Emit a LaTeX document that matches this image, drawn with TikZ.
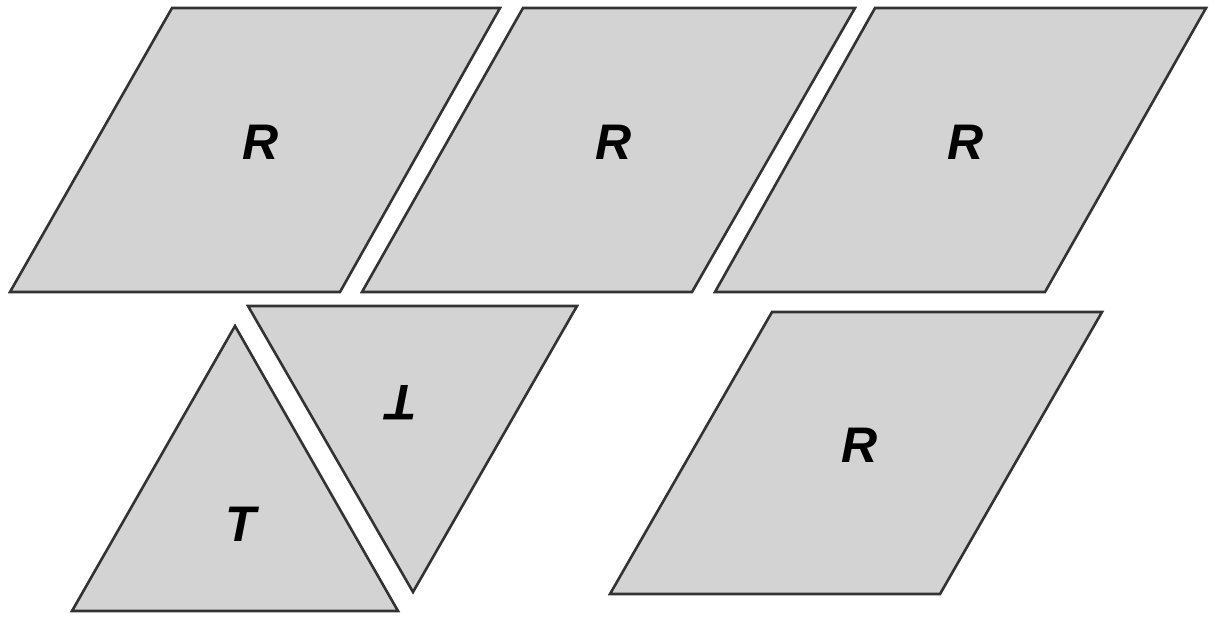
\documentclass[tikz,border=0pt]{standalone}
\usepackage{fontspec}
\setmainfont{Liberation Sans}
\begin{document}
\begin{tikzpicture}[x=1pt,y=-1pt,
  tile/.style={fill=tilegray,draw=black!80,line width=2.6pt,line join=miter},
  lab/.style={font=\fontsize{50}{54}\selectfont\bfseries\itshape,inner sep=0pt}]
\definecolor{tilegray}{RGB}{211,211,211}
\useasboundingbox (0,0) rectangle (1214,617);
% top row
\draw[tile] (172,8) -- (500,8) -- (340,292) -- (10,292) -- cycle;
\draw[tile] (523,8) -- (855,8) -- (692,292) -- (362,292) -- cycle;
\draw[tile] (875,8) -- (1206,8) -- (1045,292) -- (715,292) -- cycle;
% bottom right
\draw[tile] (772,312) -- (1102,312) -- (940,594) -- (610,594) -- cycle;
% triangles
\draw[tile] (235,326) -- (398,611) -- (72,611) -- cycle;
\draw[tile] (248,306) -- (577,306) -- (413,592) -- cycle;
% labels
\node[lab] (r1) at (261,142) {R};
\node[lab] (r2) at (614,142) {R};
\node[lab] (r3) at (966,142) {R};
\node[lab] (r4) at (860,445) {R};
\node[lab] (t1) at (241,524) {T};
\node[lab,rotate=180] (t2) at (402,403) {T};
\end{tikzpicture}
\end{document}
